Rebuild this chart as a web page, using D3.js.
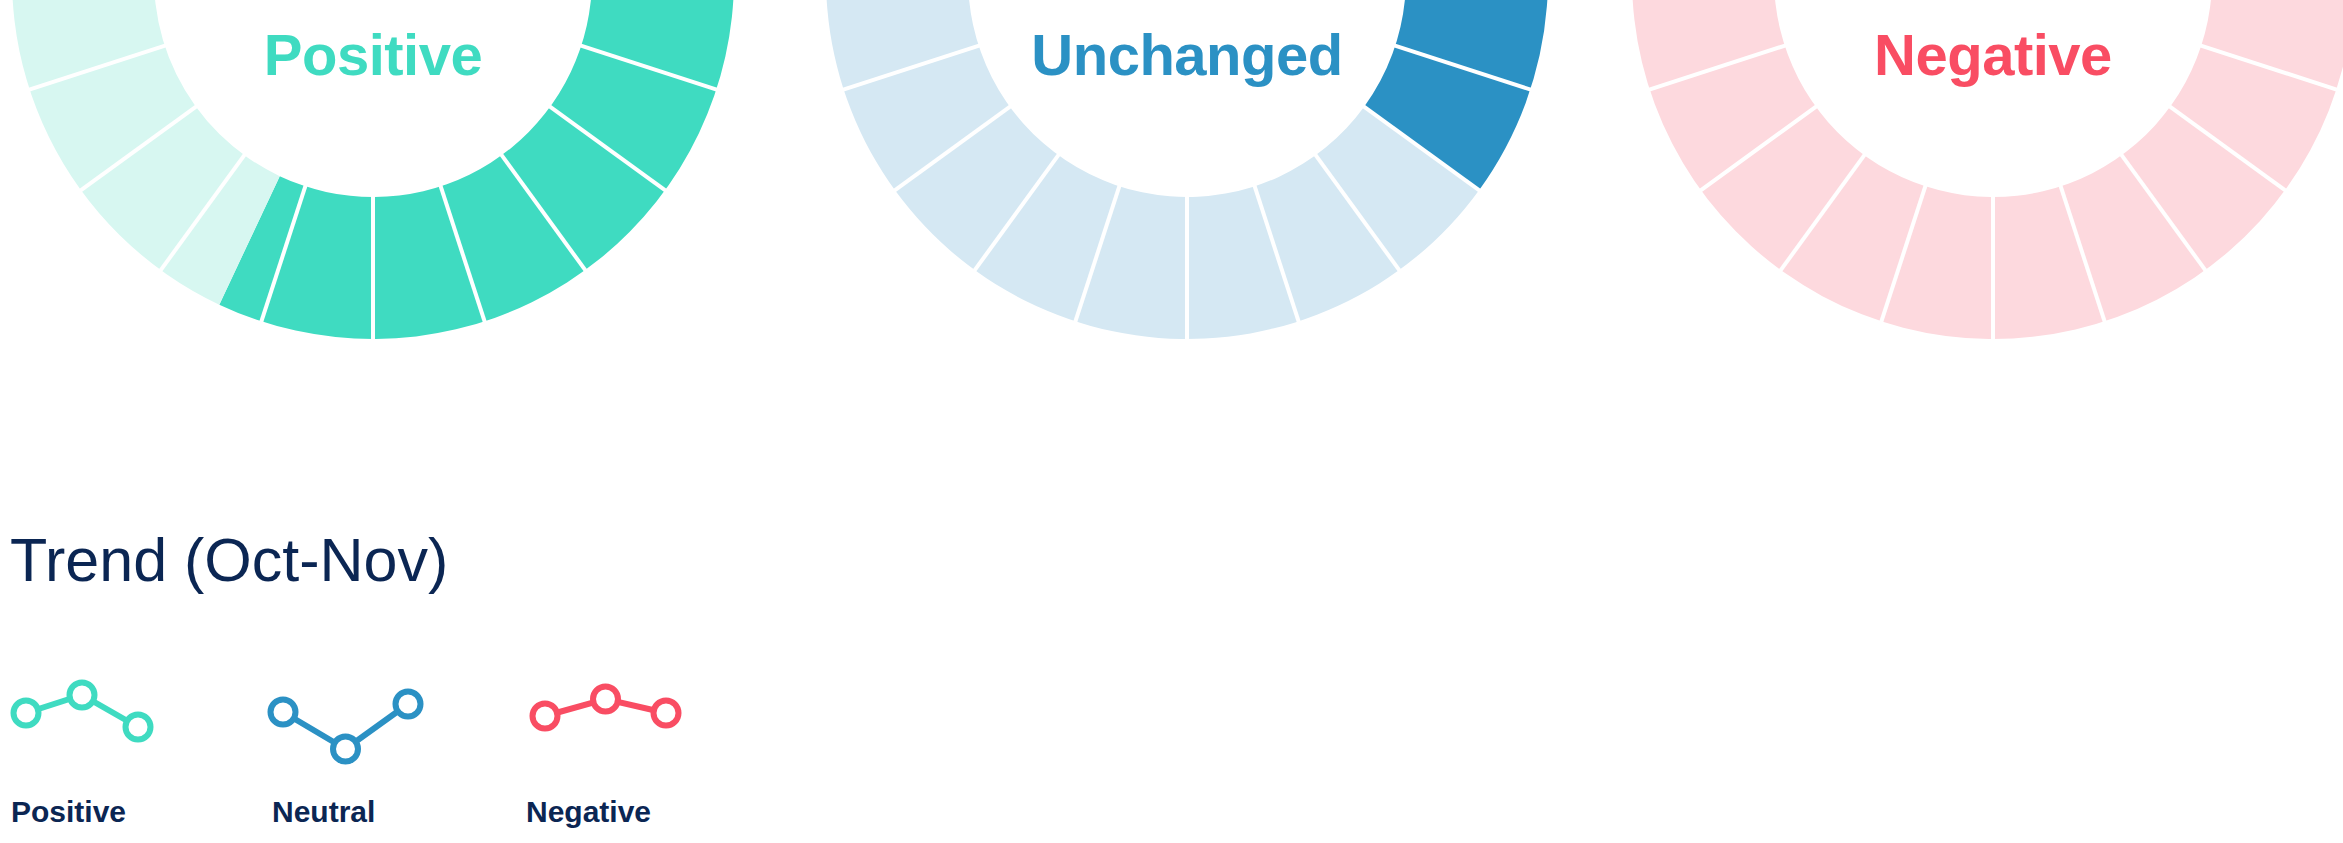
<!DOCTYPE html>
<html>
<head>
<meta charset="utf-8">
<script src="https://cdn.jsdelivr.net/npm/d3@7"></script>
<style>
  body { margin: 0; background: #ffffff; }
  svg { display: block; font-family: "Liberation Sans", Arial, sans-serif; }
</style>
</head>
<body>
<svg id="chart"></svg>
<script>
// sentiment share (percent of mentions)
var categories = ["Positive", "Unchanged", "Negative"];
var shares = [57, 35, 8];

// trend legend (Oct-Nov), three readings each
var trendLabels = ["Positive", "Neutral", "Negative"];
var trendPoints = ["Oct", "Mid", "Nov"];
var positiveTrend = [8.4, 12, 5.6];
var neutralTrend = [8.6, 1.2, 10.2];
var negativeTrend = [7.8, 11.2, 8.4];

var darkColors = ["#3fdbc1", "#2b91c4", "#f94d63"];
var lightColors = ["#d7f7f1", "#d5e8f3", "#fdd9de"];
var navy = "#0b2653";

var width = 2343;
var height = 843;
var segmentCount = 20;
var innerR = 219;
var outerR = 361;

var svg = d3.select("#chart")
  .attr("width", width)
  .attr("height", height);

var xCenter = d3.scaleOrdinal()
  .domain(categories)
  .range([373, 1187, 1993]);

var angle = d3.scaleLinear()
  .domain([0, 100])
  .range([0, 2 * Math.PI]);

var segAngle = d3.scaleLinear()
  .domain([0, segmentCount])
  .range([0, 2 * Math.PI]);

var arc = d3.arc()
  .innerRadius(innerR)
  .outerRadius(outerR);

var rings = svg.selectAll("g.ring")
  .data(categories)
  .enter()
  .append("g")
  .attr("class", "ring")
  .attr("transform", function(d) {
    return "translate(" + xCenter(d) + ",-22)";
  });

// filled part
rings.append("path")
  .attr("d", function(d, i) {
    return arc({startAngle: 0, endAngle: angle(shares[i])});
  })
  .attr("fill", function(d, i) { return darkColors[i]; });

// remainder
rings.append("path")
  .attr("d", function(d, i) {
    return arc({startAngle: angle(shares[i]), endAngle: 2 * Math.PI});
  })
  .attr("fill", function(d, i) { return lightColors[i]; });

// white gaps between the segments
rings.selectAll("line")
  .data(d3.range(segmentCount))
  .enter()
  .append("line")
  .attr("x1", function(k) { return Math.sin(segAngle(k)) * (innerR - 2); })
  .attr("y1", function(k) { return -Math.cos(segAngle(k)) * (innerR - 2); })
  .attr("x2", function(k) { return Math.sin(segAngle(k)) * (outerR + 2); })
  .attr("y2", function(k) { return -Math.cos(segAngle(k)) * (outerR + 2); })
  .attr("stroke", "#ffffff")
  .attr("stroke-width", 4);

rings.append("text")
  .text(function(d) { return d; })
  .attr("x", 0)
  .attr("y", 97)
  .attr("text-anchor", "middle")
  .attr("font-size", 58)
  .attr("font-weight", "bold")
  .attr("letter-spacing", -0.5)
  .attr("fill", function(d, i) { return darkColors[i]; });

// legend
svg.append("text")
  .text("Trend (Oct-Nov)")
  .attr("x", 10)
  .attr("y", 581)
  .attr("font-size", 61)
  .attr("fill", navy);

var trends = [positiveTrend, neutralTrend, negativeTrend];
var labelX = [11, 272, 526];
var iconX = [26, 283, 545];
var iconW = [112, 125, 121];

var ty = d3.scaleLinear()
  .domain([0, 13])
  .range([755, 690]);

var items = svg.selectAll("g.trend")
  .data(trendLabels)
  .enter()
  .append("g")
  .attr("class", "trend");

items.each(function(d, i) {
  var g = d3.select(this);
  var tx = d3.scalePoint()
    .domain(trendPoints)
    .range([iconX[i], iconX[i] + iconW[i]]);

  var line = d3.line()
    .x(function(v, j) { return tx(trendPoints[j]); })
    .y(function(v) { return ty(v); });

  g.append("path")
    .attr("d", line(trends[i]))
    .attr("fill", "none")
    .attr("stroke", darkColors[i])
    .attr("stroke-width", 6);

  g.selectAll("circle")
    .data(trends[i])
    .enter()
    .append("circle")
    .attr("cx", function(v, j) { return tx(trendPoints[j]); })
    .attr("cy", function(v) { return ty(v); })
    .attr("r", 12.5)
    .attr("fill", "#ffffff")
    .attr("stroke", darkColors[i])
    .attr("stroke-width", 6);

  g.append("text")
    .text(d)
    .attr("x", labelX[i])
    .attr("y", 822)
    .attr("font-size", 30)
    .attr("font-weight", "bold")
    .attr("fill", navy);
});
</script>
</body>
</html>
